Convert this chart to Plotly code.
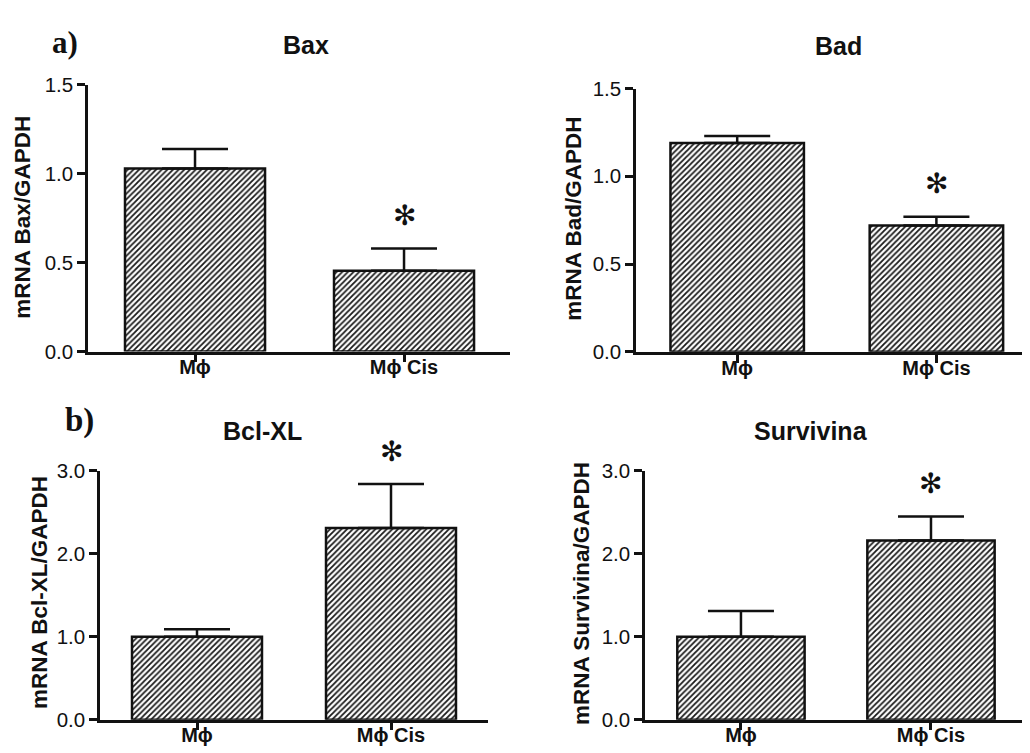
import plotly.graph_objects as go

categories = ["Mϕ", "Mϕ Cis"]

bax_mean = [1.03, 0.455]
bax_err = [0.11, 0.125]
bad_mean = [1.19, 0.72]
bad_err = [0.04, 0.05]
bcl_mean = [1.0, 2.31]
bcl_err = [0.09, 0.53]
surv_mean = [1.0, 2.16]
surv_err = [0.31, 0.29]

titles = ["Bax", "Bad", "Bcl-XL", "Survivina"]
ytitles = ["mRNA Bax/GAPDH", "mRNA Bad/GAPDH", "mRNA Bcl-XL/GAPDH", "mRNA Survivina/GAPDH"]
yticks_small = [0.0, 0.5, 1.0, 1.5]
yticks_large = [0.0, 1.0, 2.0, 3.0]
star_index = [1, 1, 1, 1]  # significant group per panel
panel_labels = ["a)", "b)"]

W, H = 1030, 753
BLACK = "#111111"
SANS = "Liberation Sans, Arial, sans-serif"
SERIF = "Liberation Serif, Times New Roman, serif"


def px_x(p):
    return p / W


def px_y(p):
    return 1 - p / H


# panel geometry in pixels: (x_left, x_right, y_top, y_bottom, xrange)
panels = [
    (80, 502, 67, 342, [-0.512, 1.507]),
    (628, 1030, 70.7, 342.3, [-0.508, 1.51]),
    (92, 480, 465, 721.7, [-0.5, 1.5]),
    (637, 1018, 465, 721.7, [-0.505, 1.5]),
]
data = [(bax_mean, bax_err), (bad_mean, bad_err), (bcl_mean, bcl_err), (surv_mean, surv_err)]
yranges = [[0, 1.5], [0, 1.5], [0, 3.0], [0, 3.0]]
ytickss = [yticks_small, yticks_small, yticks_large, yticks_large]
title_pos = [(298, 26), (830, 27), (254, 424), (803, 424)]
ytitle_pos = [(15, 204), (566, 205), (32, 591), (574, 592)]

fig = go.Figure()
layout = dict(
    width=W, height=H, margin=dict(l=0, r=0, t=0, b=0),
    paper_bgcolor="white", plot_bgcolor="white", showlegend=False,
    font=dict(family=SANS, color=BLACK),
)
annotations = []

for i, ((xl, xr, yt, yb, xrng), (m, e)) in enumerate(zip(panels, data)):
    n = "" if i == 0 else str(i + 1)
    xa, ya = "x" + n, "y" + n
    fig.add_trace(go.Bar(
        x=[0, 1], y=m, width=0.67,
        xaxis=xa, yaxis=ya,
        marker=dict(
            color="white",
            line=dict(color=BLACK, width=2.5),
            pattern=dict(shape="/", fgcolor="#1a1a1a", bgcolor="white",
                         size=4, solidity=0.45, fillmode="replace"),
        ),
        error_y=dict(type="data", symmetric=False, array=e, arrayminus=[0, 0],
                     color=BLACK, thickness=2.5, width=33),
        hoverinfo="skip",
    ))
    layout["xaxis" + n] = dict(
        domain=[px_x(xl), px_x(xr)], range=xrng, anchor=ya,
        tickvals=[0, 1], ticktext=[f"<b>{c}</b>" for c in categories],
        showline=True, linecolor=BLACK, linewidth=2.5,
        ticks="outside", ticklen=8, tickwidth=2.5, tickcolor=BLACK,
        ticklabelstandoff=-12,
        tickfont=dict(size=20, family=SANS, color=BLACK),
        showgrid=False, zeroline=False, fixedrange=True,
    )
    layout["yaxis" + n] = dict(
        domain=[px_y(yb), px_y(yt)], range=yranges[i], anchor=xa,
        tickvals=ytickss[i], tickformat=".1f",
        showline=True, linecolor=BLACK, linewidth=2.5,
        ticks="outside", ticklen=8, tickwidth=2.5, tickcolor=BLACK,
        tickfont=dict(size=20.5, family=SANS, color=BLACK),
        showgrid=False, zeroline=False, fixedrange=True,
    )
    tx, ty = title_pos[i]
    annotations.append(dict(text=f"<b>{titles[i]}</b>", x=px_x(tx), y=px_y(ty),
                            xref="paper", yref="paper", showarrow=False,
                            xanchor="center", yanchor="middle",
                            font=dict(size=25, family=SANS, color=BLACK)))
    yx, yy = ytitle_pos[i]
    annotations.append(dict(text=f"<b>{ytitles[i]}</b>", x=px_x(yx), y=px_y(yy),
                            xref="paper", yref="paper", showarrow=False,
                            textangle=-90, xanchor="center", yanchor="middle",
                            font=dict(size=22.5, family=SANS, color=BLACK)))
    k = star_index[i]
    annotations.append(dict(text="✻", x=k, y=m[k] + e[k], xref=xa, yref=ya,
                            showarrow=False, yshift=33, xanchor="center", yanchor="middle",
                            font=dict(size=28, family="DejaVu Sans", color=BLACK)))

annotations.append(dict(text=f"<b>{panel_labels[0]}</b>", x=px_x(57), y=px_y(23),
                        xref="paper", yref="paper", showarrow=False,
                        xanchor="center", yanchor="middle",
                        font=dict(size=31, family=SERIF, color=BLACK)))
annotations.append(dict(text=f"<b>{panel_labels[1]}</b>", x=px_x(71), y=px_y(413),
                        xref="paper", yref="paper", showarrow=False,
                        xanchor="center", yanchor="middle",
                        font=dict(size=33, family=SERIF, color=BLACK)))

layout["annotations"] = annotations
fig.update_layout(**layout)
fig.write_html("out.html")
